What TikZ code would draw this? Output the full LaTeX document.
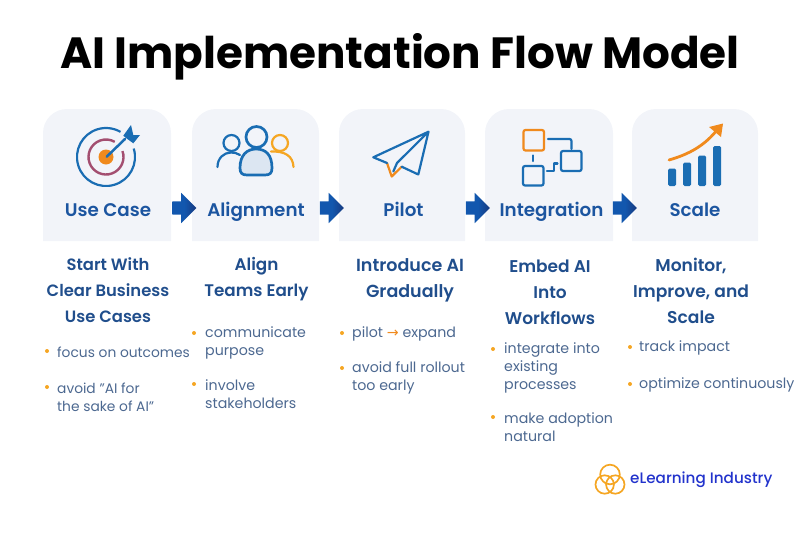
\documentclass[tikz,border=0pt]{standalone}
\usepackage{fontspec}
\setmainfont{Poppins}
\newfontfamily\arrowfont{DejaVu Sans}
\newfontfamily\semifont{Poppins SemiBold}
\newfontfamily\medfont{Poppins Medium}
\usetikzlibrary{shapes.arrows}
\definecolor{navy}{HTML}{204E8C}
\definecolor{slate}{HTML}{4C6890}
\definecolor{label}{HTML}{1C55A0}
\definecolor{arrowblue}{HTML}{1257AE}
\definecolor{arrowdark}{HTML}{17397F}
\definecolor{cardbg}{HTML}{F2F4F9}
\definecolor{iconblue}{HTML}{1A6DB3}
\definecolor{iconorange}{HTML}{F08A1D}
\definecolor{dot}{HTML}{F5A623}
\definecolor{ring}{HTML}{A34E70}
\definecolor{logoblue}{HTML}{2233CC}
\tikzset{
  heading/.style={font=\fontsize{#1}{26}\selectfont\semifont,text=navy,align=center,inner sep=0pt},
  steplabel/.style={font=\fontsize{18.3}{20}\selectfont\semifont,text=label,inner sep=0pt,anchor=base},
  bullettext/.style={font=\fontsize{#1}{18}\selectfont,text=slate,align=left,anchor=west,inner sep=0pt},
  bullettext/.default=14.2,
  bulletdot/.style={circle,fill=dot,inner sep=0pt,minimum size=4pt},
  flowarrow/.style={single arrow,left color=arrowblue,right color=arrowdark,middle color=arrowblue,inner sep=0pt,
    minimum width=30pt,minimum height=24pt,single arrow head extend=8.5pt,single arrow head indent=0pt},
  icon/.style={draw=iconblue,line width=2.2pt,line join=round,line cap=round},
  iconorg/.style={icon,draw=iconorange},
}
\begin{document}
\begin{tikzpicture}[x=1pt,y=-1pt]
	\useasboundingbox (0,0) rectangle (800,533);
	\node (title) at (400,57) [font=\fontsize{43.7}{50}\selectfont\bfseries,text=black,inner sep=0pt] {AI Implementation Flow Model};
	% cards
	\foreach \a/\b in {43/171,192/319,339/465,485/613,632/758}
		\fill[cardbg] (\a,241) [rounded corners=24pt] -- (\a,109) -- (\b,109) [sharp corners] -- (\b,241) -- cycle;
	% step labels
	\node (usecase) at (108,216) [steplabel] {Use Case};
	\node (alignment) at (256,216) [steplabel] {Alignment};
	\node (pilot) at (403.5,216) [steplabel] {Pilot};
	\node (integration) at (551.5,216) [steplabel] {Integration};
	\node (scale) at (695,216) [steplabel] {Scale};
	% arrows
	\node (arr1) at (181,208) [flowarrow] {\rule{0pt}{13pt}};
	\node (arr2) at (328.5,208) [flowarrow] {\rule{0pt}{13pt}};
	\node (arr3) at (474.5,208) [flowarrow] {\rule{0pt}{13pt}};
	\node (arr4) at (621.5,208) [flowarrow] {\rule{0pt}{13pt}};
	% target icon
	\draw[draw=iconblue,line width=2.2pt] (106,157) ++(-17:29) arc[start angle=-17,end angle=300,radius=29];
	\draw[draw=ring,line width=2.4pt] (106,157) ++(-20:17.5) arc[start angle=-20,end angle=300,radius=17.5];
	\fill[iconorange] (106,157) circle (7.5);
	\draw[icon,line width=2.5pt] (106.7,156.7) -- (125,139);
	\fill[iconblue] (131,125) -- (133.3,135) -- (140,135) -- (133.3,143.3) -- (126,138) -- (123.3,135.7) -- cycle;
	% people icon
	\draw[icon] (231.5,143) circle (8);
	\draw[icon] (217.5,167) .. controls (217.5,158) and (224,152.5) .. (231,152.5) .. controls (234,152.5) and (237,153) .. (240,155);
	\draw[iconorg,draw=dot] (280,143) circle (8);
	\draw[iconorg,draw=dot] (271,151.5) .. controls (285,151) and (293,156) .. (293.5,167);
	\draw[icon,line width=2.7pt,fill=cardbg] (256.5,137) circle (10.5);
	\draw[icon,line width=2.7pt,fill=cardbg!90!iconblue] (240,168) .. controls (240,155) and (247,149) .. (256,149) .. controls (266,149) and (272,155) .. (272,168) .. controls (272,173) and (270,175) .. (265,175) -- (247,175) .. controls (242,175) and (240,173) .. (240,168) -- cycle;
	% plane icon
	\draw[iconorg] (387,163) -- (391.7,176.5) -- (401.7,166.7);
	\draw[icon] (387,163) -- (373.3,157.3) -- (428.5,131.7) -- (418.3,174.5) -- (401.7,166.7) (428.5,131.7) -- (397,163) -- (393.3,171.5);
	% integration icon
	\draw[iconorg,rounded corners=2pt] (523.5,130) rectangle (544,150.5);
	\draw[icon,rounded corners=2pt] (561,151) rectangle (581.5,171);
	\draw[icon,rounded corners=2pt] (523,166) rectangle (543.5,185.5);
	\draw[icon,rounded corners=2pt] (548,139) -- (571.5,139) -- (571.5,149);
	\draw[icon] (532.7,155.5) -- (532.7,161);
	\draw[icon] (547,171) -- (554,171) -- (554,163.5) -- (557.5,163.5);
	% scale icon
	\foreach \a/\t in {668/168.5,683/162.5,698/155.5,713/146}
		\fill[iconblue,rounded corners=1.5pt] (\a,\t) rectangle (\a+8,186);
	\draw[iconorange,line width=2.8pt,line cap=round] (669,160) .. controls (690,154) and (705,145) .. (717,130);
	\fill[iconorange] (723,123.5) -- (721,137) -- (709,127) -- cycle;
	% headings
	\node (head1) at (108,290) [heading=16.4] {Start With\\Clear Business\\Use Cases};
	\node (head2) at (256.5,279) [heading=16.8] {Align\\Teams Early};
	\node (head3) at (410,280.5) [heading=17.5] {Introduce AI\\Gradually};
	\node (head4) at (550,292.5) [heading=17] {Embed AI\\Into\\Workflows};
	\node (head5) at (691,291) [heading=17.1] {Monitor,\\Improve, and\\Scale};
	% bullets
	\node (d11) at (47,351) [bulletdot] {};
	\node (t11) at (57,352) [bullettext=13.8] {focus on outcomes};
	\node (d12) at (47,387) [bulletdot] {};
	\node (t12) at (57,397) [bullettext=13.8] {avoid "AI for\\the sake of AI"};
	\node (d21) at (194,333) [bulletdot] {};
	\node (t21) at (205,343) [bullettext] {communicate\\purpose};
	\node (d22) at (194,384) [bulletdot] {};
	\node (t22) at (205,394) [bullettext] {involve\\stakeholders};
	\node (d31) at (342,333) [bulletdot] {};
	\node (t31) at (352,334) [bullettext] {pilot \textcolor{iconorange}{\arrowfont →} expand};
	\node (d32) at (342,368) [bulletdot] {};
	\node (t32) at (352,378) [bullettext] {avoid full rollout\\too early};
	\node (d41) at (493,349) [bulletdot] {};
	\node (t41) at (504,368) [bullettext] {integrate into\\existing\\processes};
	\node (d42) at (493,417) [bulletdot] {};
	\node (t42) at (504,427) [bullettext] {make adoption\\natural};
	\node (d51) at (630,347) [bulletdot] {};
	\node (t51) at (639,348) [bullettext] {track impact};
	\node (d52) at (630,384) [bulletdot] {};
	\node (t52) at (639,385) [bullettext] {optimize continuously};
	% logo
	\draw[draw=dot,line width=1.7pt] (610,474.5) circle (9.8);
	\draw[draw=dot,line width=1.7pt] (604.7,484.5) circle (9.2);
	\draw[draw=dot,line width=1.7pt] (615.3,484.5) circle (9.2);
	\node (logo) at (630,480) [anchor=west,inner sep=0pt,text=logoblue,font=\fontsize{15.2}{18}\selectfont\medfont] {eLearning Industry};
\end{tikzpicture}
\end{document}
